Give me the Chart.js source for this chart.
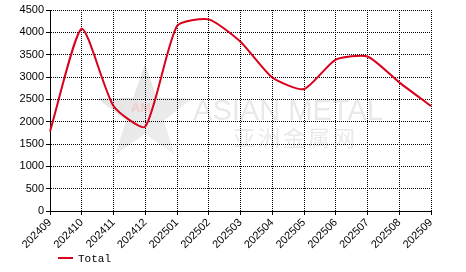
<!DOCTYPE html>
<html>
<head>
<meta charset="utf-8">
<script src="https://cdn.jsdelivr.net/npm/chart.js@4/dist/chart.umd.min.js"></script>
<style>
  html, body { margin: 0; padding: 0; background: #fff; }
  #wrap { width: 466px; height: 272px; }
</style>
</head>
<body>
<div id="wrap"><canvas id="chart"></canvas></div>
<script>
const months = ["202409", "202410", "202411", "202412", "202501", "202502", "202503",
                "202504", "202505", "202506", "202507", "202508", "202509"];
const totalValues = [1780, 4080, 2350, 1890, 4140, 4290, 3790, 2990, 2730, 3390, 3460, 2880, 2350];
const seriesName = "Total";
const yTicks = { min: 0, max: 4500, step: 500 };

const lineColor = "#d9001b";

// watermark behind the grid
const watermark = {
  id: "watermark",
  beforeDraw(chart) {
    const ctx = chart.ctx;
    ctx.save();
    // star
    const cx = 145, cy = 114, R = 50, r = 20;
    ctx.beginPath();
    for (let i = 0; i < 10; i++) {
      const rad = i % 2 === 0 ? R : r;
      const a = -Math.PI / 2 + i * Math.PI / 5;
      const px = cx + rad * Math.cos(a), py = cy + rad * Math.sin(a);
      if (i === 0) ctx.moveTo(px, py); else ctx.lineTo(px, py);
    }
    ctx.closePath();
    const g = ctx.createLinearGradient(cx - R, cy - R, cx + R, cy + R);
    g.addColorStop(0, "#e0e0e0");
    g.addColorStop(1, "#f2f2f2");
    ctx.fillStyle = g;
    ctx.fill();
    ctx.fillStyle = "rgba(255,160,160,0.4)";
    ctx.font = "bold 13px 'Liberation Sans'";
    ctx.textAlign = "center";
    ctx.textBaseline = "middle";
    ctx.fillText("AM", cx - 4, cy - 6);
    // text
    ctx.fillStyle = "#e9e9e9";
    ctx.textAlign = "left";
    ctx.textBaseline = "alphabetic";
    ctx.font = "30px 'Liberation Sans'";
    ctx.fillText("ASIAN METAL", 193, 120, 190);
    ctx.font = "22px 'Noto Sans CJK SC'";
    ctx.letterSpacing = "3px";
    ctx.textBaseline = "middle";
    ctx.fillText("亚洲金属网", 233, 138);
    ctx.restore();
  }
};

// small legend bottom-left
const legendDraw = {
  id: "legendDraw",
  afterDraw(chart) {
    const ctx = chart.ctx;
    ctx.save();
    ctx.strokeStyle = lineColor;
    ctx.lineWidth = 2;
    ctx.beginPath();
    ctx.moveTo(58, 258);
    ctx.lineTo(73, 258);
    ctx.stroke();
    ctx.fillStyle = "#000";
    ctx.font = "11px 'Liberation Mono'";
    ctx.textBaseline = "middle";
    ctx.fillText(seriesName, 78, 259);
    ctx.restore();
  }
};

const gridLine = { color: "#000", lineWidth: 1, tickLength: 4, tickColor: "#000", tickWidth: 1 };

new Chart(document.getElementById("chart"), {
  type: "line",
  data: {
    labels: months,
    datasets: [{
      label: seriesName,
      data: totalValues,
      borderColor: lineColor,
      borderWidth: 2,
      pointRadius: 0,
      tension: 0.2,
      fill: false
    }]
  },
  options: {
    responsive: true,
    maintainAspectRatio: false,
    animation: false,
    layout: { padding: { top: 10, right: 35, bottom: 21, left: 0 } },
    plugins: {
      legend: { display: false },
      tooltip: { enabled: false }
    },
    scales: {
      x: {
        offset: false,
        grid: gridLine,
        border: { display: true, color: "#000", width: 1, dash: [1, 1] },
        ticks: {
          color: "#000",
          font: { family: "'Liberation Sans'", size: 11 },
          minRotation: 45,
          maxRotation: 45,
          padding: 1,
          autoSkip: false
        },
        afterFit(scale) { scale.height = 40; }
      },
      y: {
        min: yTicks.min,
        max: yTicks.max,
        grid: gridLine,
        border: { display: true, color: "#000", width: 1, dash: [1, 1] },
        ticks: {
          stepSize: yTicks.step,
          color: "#000",
          font: { family: "'Liberation Sans'", size: 11 },
          padding: 2,
          callback: (v) => String(v)
        },
        afterFit(scale) { scale.width = 50; }
      }
    }
  },
  plugins: [watermark, legendDraw]
});
</script>
</body>
</html>
